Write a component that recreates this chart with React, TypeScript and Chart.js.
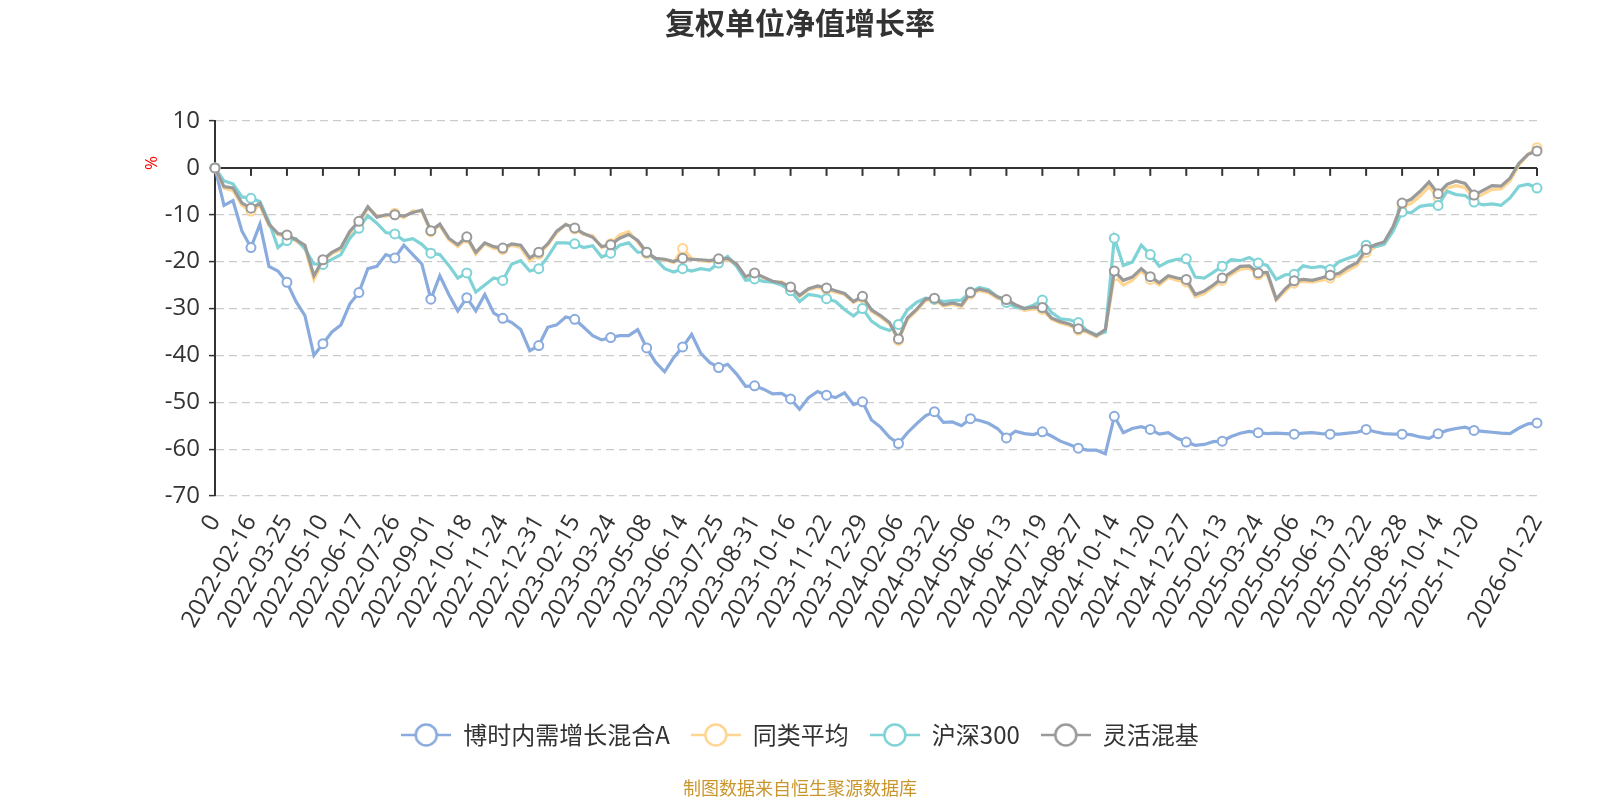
import React, { useEffect, useRef } from 'react';
import { Chart, registerables } from 'chart.js';

Chart.register(...registerables);

// x-axis tick labels (every 4th sample, plus the final date)
const tickLabels = [
  '0', '2022-02-16', '2022-03-25', '2022-05-10', '2022-06-17', '2022-07-26', '2022-09-01',
  '2022-10-18', '2022-11-24', '2022-12-31', '2023-02-15', '2023-03-24', '2023-05-08',
  '2023-06-14', '2023-07-25', '2023-08-31', '2023-10-16', '2023-11-22', '2023-12-29',
  '2024-02-06', '2024-03-22', '2024-05-06', '2024-06-13', '2024-07-19', '2024-08-27',
  '2024-10-14', '2024-11-20', '2024-12-27', '2025-02-13', '2025-03-24', '2025-05-06',
  '2025-06-13', '2025-07-22', '2025-08-28', '2025-10-14', '2025-11-20', '2026-01-22',
];
const POINTS_PER_TICK = 4;

const seriesNames = ['博时内需增长混合A', '同类平均', '沪深300', '灵活混基'];
const seriesColors = ['#8aabdd', '#ffd591', '#7fd3d6', '#9a9a9a'];

// 博时内需增长混合A
const fundValues = [
  0, -8, -7, -13.5, -17, -12, -21, -22, -24.4, -28.5, -31.5, -40, -37.5, -35, -33.5, -29, -26.6, -21.5, -21,
  -18.5, -19.2, -16.5, -18.5, -20.5, -28, -23, -27, -30.5, -27.7, -30.5, -27, -31, -32.1, -33, -34.5, -39, -37.9, -34,
  -33.5, -31.8, -32.3, -34, -35.8, -36.7, -36.2, -35.8, -35.8, -34.5, -38.4, -41.5, -43.5, -40.5, -38.2, -35.5, -39.5,
  -41.5, -42.6, -41.9, -44, -46.6, -46.5, -47.2, -48.2, -48.1, -49.3, -51.5, -49, -47.7, -48.5, -49, -48, -50.5, -49.9,
  -53.8, -55.3,
  -57.5, -58.8, -56.5, -54.6, -52.9, -52, -54.3, -54.2, -55, -53.5, -53.9, -54.5, -55.6, -57.6, -56.2, -56.7, -56.9,
  -56.3, -57.2, -58.3, -59, -59.8, -60.2, -60.2, -61, -53, -56.5, -55.6, -55.2, -55.8, -56.8, -56.5, -57.7, -58.5,
  -59.2, -59, -58.4, -58.3,
  -57.3, -56.6, -56.2, -56.5, -56.7, -56.6, -56.7, -56.8, -56.6, -56.5, -56.7, -56.8, -56.8, -56.6, -56.4, -55.8,
  -56.3, -56.7, -56.8, -56.8, -56.9, -57.4, -57.7, -56.7, -56, -55.6, -55.3, -56, -56.2, -56.4, -56.6, -56.7, -55.5,
  -54.6, -54.4,
];

// 同类平均
const peerAvgValues = [
  0, -4.3, -4.8, -8, -9.2, -8, -12.3, -14.2, -14.6, -15.6, -17, -23.8, -19.8, -18.3, -17.4, -14, -11.8, -8.6, -10.2,
  -10.3, -9.7, -10.6, -9.2, -9.4, -13.6, -12.3, -15.3, -16.8, -15, -18.4, -16.2, -17.2, -17.4, -16.5, -17, -19.8, -18.4,
  -16.5,
  -13.8, -12, -13, -14.2, -14.5, -17, -16.2, -14.3, -13.6, -15.8, -18.3, -19.5, -19.6, -20.2, -17.2, -19.3, -19.8,
  -20, -19.6, -19.5, -20.8, -23.5, -22.6, -23.5, -24.4, -24.3, -25.6, -27.4, -26, -25.5, -25.9, -26.5, -27, -28.7,
  -27.7, -30.6, -31.8,
  -33.3, -36.8, -32.3, -30.5, -28.3, -28.1, -29.5, -29.1, -29.6, -26.9, -26.2, -26.6, -27.8, -28.4, -29.6, -30.4,
  -30.1, -30.2, -32.3, -33.1, -33.6, -34.6, -35.1, -36, -34.8, -23, -25, -24, -22, -23.8, -25, -23.4, -24, -24.3,
  -27.5, -26.8, -25.4, -24,
  -22.8, -21.6, -21.4, -22.8, -22.8, -28.2, -26.3, -24.6, -24.2, -24.4, -24, -23.5, -23, -21.8, -20.8, -18, -16.9,
  -16.3, -13.2, -8.2, -7.6, -6, -4, -6.3, -4.3, -3.8, -4.2, -6.6, -5.6, -4.6, -4.5, -2.8, 0.6, 2.8, 4.3,
];

// 沪深300
const hs300Values = [
  0, -2.8, -3.4, -6.2, -6.5, -7.2, -11.5, -17, -15.5, -15.1, -17.3, -20.5, -20.6, -19.5, -18.5, -15, -12.9, -10.2,
  -11.8, -13.8, -14.1, -15.5, -15.1, -16.3, -18.2, -18.5, -20.8, -23.5, -22.4, -26.5, -25, -23.5, -24, -20.5, -19.8,
  -22, -21.5, -19,
  -16, -16, -16.2, -17, -16.6, -19, -18.2, -16.5, -16, -18, -18, -19.5, -21.5, -22.2, -21.5, -22, -21.5, -21.8, -20.3,
  -18.9, -21, -24, -23.7, -24.2, -24.4, -25, -26.2, -28.5, -27, -27.3, -27.9, -28.5, -30.2, -31.6, -30, -32.7, -34,
  -34.7, -33.4, -30.3, -28.7, -27.8, -28, -28.5, -28.3, -28.2, -26.5, -25.5, -26, -27.5, -28.7, -29.7, -30, -29.3,
  -28.2, -30.8, -32.2, -32.4, -33, -34.8, -35.6, -35, -15, -20.8, -20.1, -16.5, -18.5, -21, -20, -19.5, -19.4, -23.3,
  -23.5, -22.3, -21,
  -19.6, -19.8, -19.1, -20.3, -20.8, -23.8, -22.8, -22.7, -20.9, -21.3, -21, -21.7, -20, -19.3, -18.6, -16.5, -16.8,
  -16.3, -13.5, -9.4, -9.6, -8.2, -7.9, -8, -5, -5.7, -5.9, -7.3, -7.9, -7.7, -8, -6.4, -3.9, -3.5, -4.3,
];

// 灵活混基
const flexMixValues = [
  0, -4, -4.3, -7.5, -8.6, -7.6, -12, -14, -14.3, -15.3, -16.5, -23, -19.6, -18, -17, -13.5, -11.4, -8.3, -10.5, -10,
  -10, -10.3, -9.5, -9, -13.4, -12, -15, -16.4, -14.7, -18, -16, -16.8, -17.1, -16.2, -16.5, -19.2, -18, -16.2,
  -13.5, -12.1, -12.8, -14, -14.8, -16.8, -16.4, -15, -14.2, -15.5, -18, -19.3, -19.5, -20, -19.3, -19.5, -19.6,
  -19.8, -19.4, -19.3, -20.5, -23.2, -22.4, -23.3, -24.2, -24.5, -25.4, -27.2, -25.8, -25.2, -25.6, -26.2, -26.8,
  -28.5, -27.4, -30.3, -31.5,
  -33, -36.5, -32, -30.2, -28, -27.8, -29.2, -28.8, -29.3, -26.6, -25.9, -26.3, -27.5, -28.1, -29.2, -30, -29.7,
  -29.8, -32, -32.8, -33.3, -34.3, -34.8, -35.8, -34.5, -22, -24, -23.3, -21.5, -23.2, -24.5, -23, -23.5, -23.8, -27,
  -26.3, -25, -23.5,
  -22.3, -21, -20.9, -22.4, -22.3, -28, -25.8, -24.1, -23.8, -24, -23.5, -22.9, -22.5, -21.2, -20.2, -17.4, -16.4,
  -15.8, -12.5, -7.5, -6.7, -5, -3, -5.5, -3.5, -2.8, -3.3, -5.8, -4.8, -3.8, -3.9, -2.2, 1, 2.9, 3.6,
];

const seriesData = [fundValues, peerAvgValues, hs300Values, flexMixValues];

// category labels: tick label at every 4th sample, last label on final sample
const xLabels: string[] = fundValues.map((_, i) => {
  if (i === fundValues.length - 1) return tickLabels[tickLabels.length - 1];
  if (i % POINTS_PER_TICK === 0) {
    const k = i / POINTS_PER_TICK;
    if (k < tickLabels.length - 1) return tickLabels[k];
  }
  return '';
});

const SANS = "'Open Sans', 'Noto Sans CJK SC', sans-serif";
const CJK = "'Noto Sans CJK SC', 'Open Sans', sans-serif";

function makeLegendIcon(color: string) {
  const c = document.createElement('canvas');
  c.width = 50;
  c.height = 26;
  const g = c.getContext('2d')!;
  g.strokeStyle = color;
  g.lineWidth = 2.5;
  g.beginPath();
  g.moveTo(0, 13);
  g.lineTo(50, 13);
  g.stroke();
  g.beginPath();
  g.arc(25, 13, 10.5, 0, Math.PI * 2);
  g.fillStyle = '#fff';
  g.fill();
  g.stroke();
  return c;
}

const decorPlugin = {
  id: 'decor',
  beforeDatasetsDraw(chart: any) {
    const { ctx } = chart;
    const x = chart.scales.x;
    const y = chart.scales.y;
    const y0 = y.getPixelForValue(0);
    ctx.save();
    ctx.strokeStyle = '#333';
    ctx.lineWidth = 2;
    xLabels.forEach((lab, i) => {
      if (!lab) return;
      const px = x.getPixelForValue(i);
      ctx.beginPath();
      ctx.moveTo(px, y0);
      ctx.lineTo(px, y0 + 8);
      ctx.stroke();
    });
    ctx.restore();
  },
  afterDraw(chart: any) {
    const { ctx, chartArea } = chart;
    const y = chart.scales.y;
    ctx.save();
    ctx.translate(chartArea.left - 63, y.getPixelForValue(0) - 5);
    ctx.rotate(-Math.PI / 2);
    ctx.fillStyle = '#ff0000';
    ctx.font = `17px ${SANS}`;
    ctx.textAlign = 'center';
    ctx.textBaseline = 'middle';
    ctx.fillText('%', 0, 0);
    ctx.restore();

    ctx.save();
    ctx.fillStyle = '#c9962d';
    ctx.font = `18px ${CJK}`;
    ctx.textAlign = 'center';
    ctx.textBaseline = 'middle';
    ctx.fillText('制图数据来自恒生聚源数据库', chart.width / 2, chart.height - 12);
    ctx.restore();
  },
};

export default function App() {
  const ref = useRef<HTMLCanvasElement | null>(null);

  useEffect(() => {
    if (!ref.current) return;
    const icons = seriesColors.map(makeLegendIcon);
    const drawOrder = [3, 2, 1, 0];
    const chart = new Chart(ref.current, {
      type: 'line',
      data: {
        labels: xLabels,
        datasets: seriesNames.map((name, i) => ({
          label: name,
          data: seriesData[i],
          borderColor: seriesColors[i],
          backgroundColor: seriesColors[i],
          borderWidth: 3.2,
          tension: 0,
          order: drawOrder[i],
          pointRadius: (c: any) => (xLabels[c.dataIndex] ? 4.5 : 0),
          pointHoverRadius: 0,
          pointBackgroundColor: '#fff',
          pointBorderColor: seriesColors[i],
          pointBorderWidth: 2,
        })),
      },
      options: {
        animation: false,
        responsive: false,
        layout: { padding: { left: 63, right: 63, top: 0, bottom: 43 } },
        plugins: {
          tooltip: { enabled: false },
          title: {
            display: true,
            text: '复权单位净值增长率',
            color: '#333',
            font: { size: 30, weight: 'bold', family: CJK },
            padding: { top: 5, bottom: 80 },
          },
          legend: {
            position: 'bottom',
            labels: {
              usePointStyle: true,
              pointStyleWidth: 50,
              boxHeight: 24,
              padding: 21,
              color: '#333',
              font: { size: 24, family: CJK },
              generateLabels: (ch: any) =>
                ch.data.datasets.map((ds: any, i: number) => ({
                  text: ds.label,
                  fillStyle: '#fff',
                  strokeStyle: ds.borderColor,
                  lineWidth: 2,
                  pointStyle: icons[i],
                  hidden: !ch.isDatasetVisible(i),
                  datasetIndex: i,
                  fontColor: '#333',
                })),
            },
          },
        },
        scales: {
          x: {
            type: 'category',
            grid: { display: false },
            border: { display: false },
            ticks: {
              autoSkip: false,
              maxRotation: 60,
              minRotation: 60,
              padding: 6,
              color: '#333',
              font: { size: 24, family: SANS },
              callback: (_v: any, i: number) => xLabels[i],
            },
            afterFit: (s: any) => {
              s.height = 206;
            },
          },
          y: {
            min: -70,
            max: 10,
            ticks: { stepSize: 10, color: '#333', padding: 9, font: { size: 24, family: SANS } },
            grid: {
              color: (c: any) => (c.tick && c.tick.value === 0 ? '#333' : '#cccccc'),
              lineWidth: (c: any) => (c.tick && c.tick.value === 0 ? 2 : 1.2),
              drawTicks: true,
              tickLength: 6,
              tickColor: '#333',
              tickWidth: 1.5,
            },
            border: {
              display: true,
              color: '#333',
              width: 2,
              dash: (c: any) => (c.tick && c.tick.value === 0 ? [] : [8, 5]),
            },
            afterFit: (s: any) => {
              s.width = 152;
            },
          },
        },
      } as any,
      plugins: [decorPlugin],
    });
    return () => chart.destroy();
  }, []);

  return (
    <div style={{ position: 'fixed', left: 0, top: 0, width: 1600, height: 800, background: '#fff' }}>
      <canvas ref={ref} width={1600} height={800} style={{ width: 1600, height: 800, display: 'block' }} />
    </div>
  );
}
